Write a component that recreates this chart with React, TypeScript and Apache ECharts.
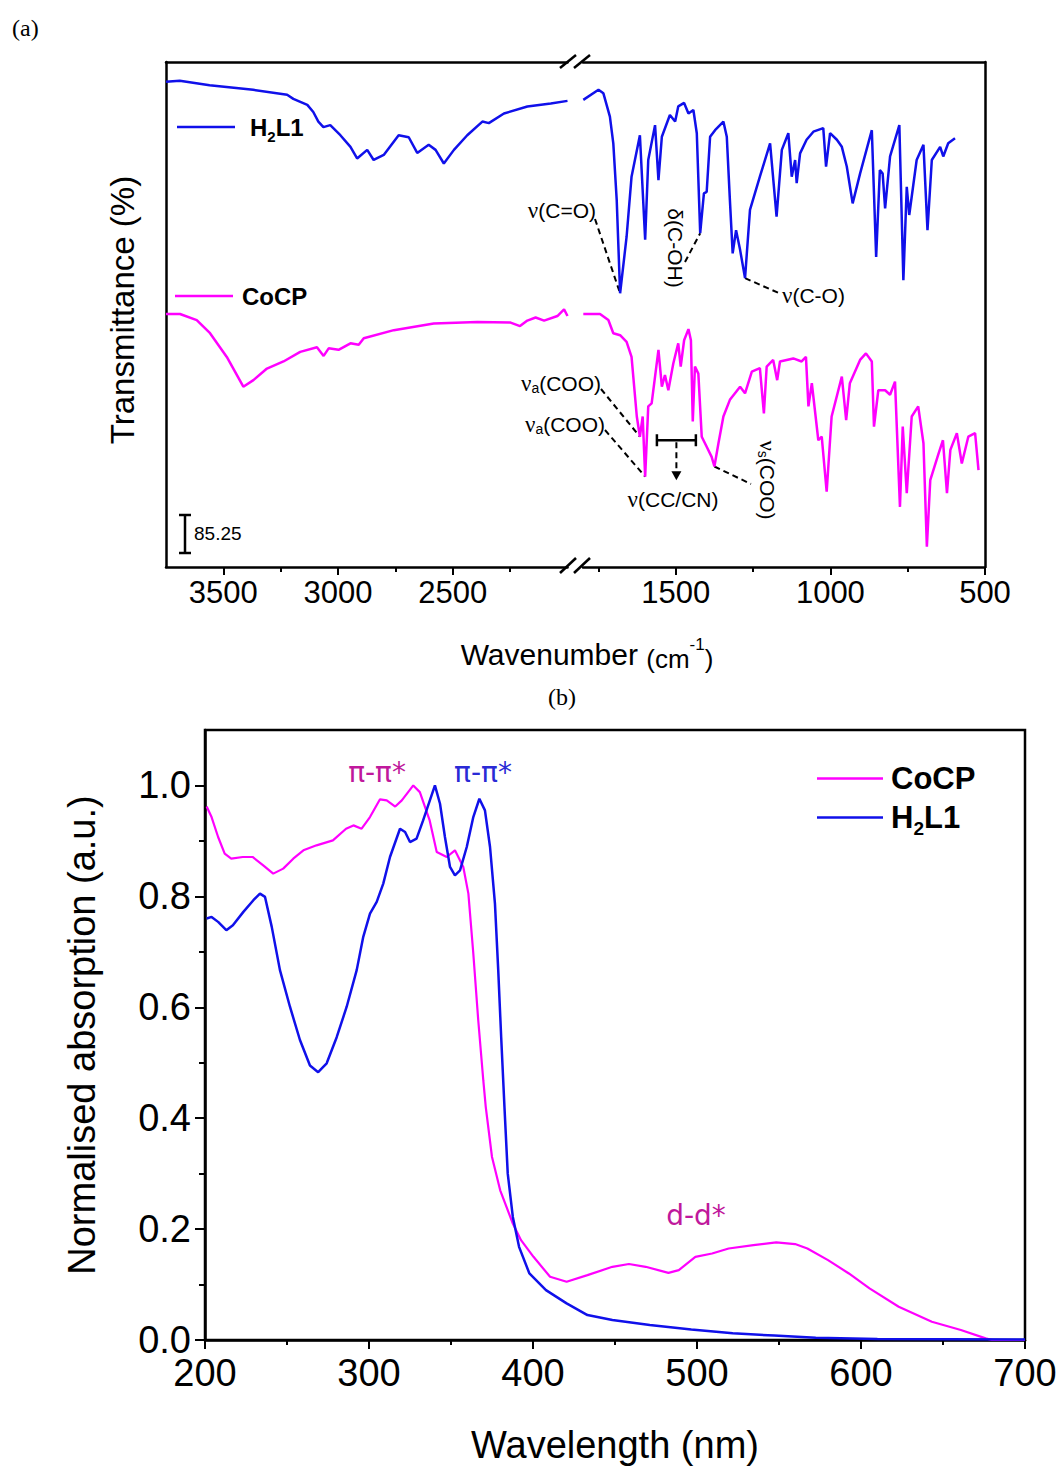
import React, { useEffect, useRef } from 'react';
import * as echarts from 'echarts';

const SANS = '"Liberation Sans", Arial, Helvetica, sans-serif';
const SERIF = '"Liberation Serif", "Times New Roman", serif';
const DEJAVU = '"DejaVu Sans", Verdana, sans-serif';
const BLUE = '#1010ea';
const MAGENTA = '#ff00ff';
const TXT_MAG = '#c0189c';
const TXT_BLUE = '#2a2ad6';

// ---------- (a) FTIR ----------
const irHighRange = [2000, 3750];
const irLowRange = [500, 1800];
const irMajorHigh = [2500, 3000, 3500];
const irMinorHigh = [2250, 2750, 3250];
const irMajorLow = [500, 1000, 1500];
const irMinorLow = [750, 1250, 1750];

const irH2L1High: number[][] = [
  [3750, 96.1], [3690, 96.3], [3560, 95.4], [3370, 94.5], [3222, 93.5], [3195, 92.7], [3134, 91.5],
  [3108, 90.1], [3086, 88.2], [3064, 87.1], [3034, 87.5], [2990, 85.5], [2946, 83.2], [2917, 80.9],
  [2873, 82.6], [2845, 80.6], [2801, 81.6], [2736, 85.5], [2692, 85.1], [2655, 82.0], [2605, 83.6],
  [2575, 82.6], [2539, 79.9], [2495, 82.6], [2437, 85.5], [2371, 88.2], [2343, 87.9], [2277, 89.8],
  [2175, 91.2], [2073, 91.8], [2000, 92.3],
];
const irH2L1Low: number[][] = [
  [1799, 92.5], [1750, 94.5], [1734, 93.8], [1713, 89.2], [1702, 83.9], [1691, 72.7], [1680, 54.2],
  [1659, 65.4], [1643, 77.3], [1616, 85.5], [1599, 64.8], [1589, 80.6], [1567, 87.5], [1556, 76.6],
  [1545, 85.2], [1519, 89.5], [1502, 88.2], [1492, 91.2], [1473, 91.9], [1459, 89.8], [1443, 90.5],
  [1432, 85.9], [1421, 66.1], [1409, 74.0], [1400, 74.3], [1389, 85.2], [1373, 86.5], [1346, 88.2],
  [1335, 85.2], [1325, 72.7], [1316, 62.1], [1305, 66.7], [1292, 62.8], [1276, 57.2], [1260, 70.7],
  [1228, 77.3], [1195, 83.9], [1174, 69.4], [1157, 82.6], [1136, 85.9], [1125, 77.3], [1114, 80.6],
  [1109, 76.0], [1098, 81.9], [1077, 84.6], [1055, 86.2], [1023, 86.9], [1014, 79.3], [1001, 85.9],
  [979, 84.6], [963, 83.2], [947, 79.3], [928, 72.0], [904, 77.9], [866, 86.5], [852, 61.4],
  [840, 78.6], [831, 77.9], [823, 71.0], [807, 81.3], [777, 87.5], [764, 56.8], [753, 75.3],
  [745, 69.7], [721, 80.6], [699, 83.6], [686, 66.7], [672, 80.6], [645, 83.2], [635, 81.3],
  [619, 83.9], [597, 84.9],
];
const irCoCPHigh: number[][] = [
  [3750, 50.1], [3689, 50.1], [3616, 48.9], [3558, 46.3], [3485, 41.6], [3413, 35.7], [3369, 37.0],
  [3310, 39.3], [3238, 40.7], [3165, 42.6], [3092, 43.5], [3063, 41.8], [3041, 43.3], [2998, 43.0],
  [2946, 44.3], [2910, 44.0], [2888, 45.3], [2757, 46.9], [2583, 48.2], [2393, 48.5], [2248, 48.4],
  [2207, 47.7], [2175, 48.8], [2139, 49.4], [2102, 48.8], [2044, 49.7], [2015, 51.0], [2000, 49.7],
];
const irCoCPLow: number[][] = [
  [1799, 50.1], [1745, 50.1], [1718, 48.9], [1702, 46.3], [1680, 45.9], [1659, 44.6], [1643, 41.6],
  [1626, 29.8], [1616, 25.8], [1607, 29.8], [1599, 17.9], [1589, 31.8], [1578, 32.4], [1567, 37.7],
  [1556, 43.0], [1545, 35.7], [1535, 38.0], [1524, 35.0], [1508, 40.3], [1492, 44.3], [1484, 39.7],
  [1473, 44.9], [1459, 47.1], [1451, 44.9], [1445, 28.8], [1438, 39.7], [1427, 38.3], [1416, 25.8],
  [1400, 23.8], [1384, 21.8], [1375, 19.9], [1362, 24.5], [1346, 29.8], [1325, 33.1], [1292, 35.7],
  [1276, 34.4], [1254, 38.7], [1228, 39.4], [1215, 30.4], [1206, 39.7], [1185, 41.0], [1172, 37.0],
  [1163, 40.7], [1120, 41.3], [1093, 40.7], [1079, 41.6], [1071, 31.8], [1060, 36.4], [1039, 25.1],
  [1028, 25.8], [1012, 14.9], [996, 29.8], [963, 37.7], [949, 29.1], [937, 36.4], [904, 41.0],
  [885, 42.3], [866, 40.7], [859, 27.8], [845, 35.0], [823, 35.0], [807, 34.1], [791, 36.7],
  [775, 11.9], [766, 27.8], [753, 14.6], [737, 29.8], [716, 31.8], [699, 24.5], [688, 4.0],
  [677, 17.2], [650, 22.5], [636, 25.1], [623, 14.6], [612, 23.2], [591, 26.5], [575, 20.5],
  [554, 25.8], [532, 26.5], [521, 19.2],
];

// ---------- (b) UV-Vis ----------
const uvXRange = [200, 700];
const uvYRange = [0, 1.1];
const uvMajorY = [0, 0.2, 0.4, 0.6, 0.8, 1.0];
const uvMinorY = [0.1, 0.3, 0.5, 0.7, 0.9];

const uvCoCP: number[][] = [
  [201, 0.962], [204, 0.943], [208, 0.907], [212, 0.877], [216, 0.868], [223, 0.871], [229, 0.871],
  [235.5, 0.856], [241.6, 0.841], [247.7, 0.85], [253.8, 0.868], [260, 0.883], [268, 0.892],
  [278, 0.901], [286, 0.922], [290.5, 0.928], [295.5, 0.922], [300.6, 0.943], [306.7, 0.975],
  [310.8, 0.973], [316, 0.962], [320, 0.973], [327, 1.0], [331, 0.988], [337, 0.937], [341.3, 0.88],
  [347.4, 0.871], [352.4, 0.883], [357.5, 0.853], [360.6, 0.805], [363.6, 0.697], [366.6, 0.577],
  [369.7, 0.468], [371.2, 0.42], [375, 0.33], [380, 0.27], [387.7, 0.21], [392.7, 0.18],
  [400.3, 0.15], [410.4, 0.114], [420.5, 0.105], [433.2, 0.117], [448.4, 0.132], [458.5, 0.137],
  [468.7, 0.132], [482.6, 0.121], [488.9, 0.126], [499, 0.15], [509.2, 0.156], [519.3, 0.165],
  [534.4, 0.171], [548.3, 0.176], [559.8, 0.173], [567.3, 0.165], [579.9, 0.144], [592.6, 0.12],
  [605.2, 0.093], [623, 0.06], [643.2, 0.033], [660.9, 0.018], [676, 0.003], [680, 0], [700, 0],
];
const uvH2L1: number[][] = [
  [201, 0.76], [204, 0.763], [208, 0.754], [213, 0.739], [217, 0.748], [223.4, 0.772], [229.5, 0.793],
  [233.5, 0.805], [236.6, 0.799], [240.7, 0.745], [245.7, 0.667], [251.8, 0.601], [257.9, 0.541],
  [264, 0.495], [269, 0.483], [274.2, 0.499], [280.3, 0.546], [286.4, 0.601], [292.5, 0.667],
  [296.5, 0.727], [300.6, 0.769], [304.7, 0.79], [308.7, 0.823], [312.8, 0.871], [318.9, 0.922],
  [322, 0.916], [325, 0.898], [329, 0.904], [333, 0.937], [340.2, 1.0], [343.3, 0.967],
  [346.3, 0.907], [349.4, 0.853], [352.4, 0.838], [355.5, 0.847], [359.6, 0.889], [363.6, 0.943],
  [367.3, 0.976], [370.7, 0.955], [373.8, 0.889], [376.8, 0.787], [378.8, 0.667], [380.6, 0.546],
  [382.6, 0.42], [384.6, 0.3], [387.7, 0.222], [391.5, 0.168], [397.8, 0.12], [407.9, 0.09],
  [420.5, 0.066], [433.2, 0.045], [448.4, 0.036], [471.2, 0.027], [496.5, 0.019], [521.8, 0.012],
  [547.1, 0.008], [572.4, 0.004], [610, 0.002], [700, 0.001],
];

const axisLineStyle = { color: '#000', width: 2.5 };

function irXAxes(gi: number, range: number[], major: number[], minor: number[]) {
  const base = { gridIndex: gi, type: 'value', min: range[0], max: range[1], inverse: true, splitLine: { show: false } };
  return [
    {
      ...base, position: 'bottom',
      axisLine: { show: true, onZero: false, lineStyle: axisLineStyle },
      axisTick: { show: true, customValues: major, length: 8, lineStyle: { color: '#000', width: 2 } },
      axisLabel: { show: true, customValues: major, formatter: (v: number) => String(v), fontSize: 31, fontFamily: SANS, color: '#000', margin: 10 },
    },
    {
      ...base, position: 'bottom',
      axisLine: { show: false, onZero: false },
      axisTick: { show: true, customValues: minor, length: 5, lineStyle: { color: '#000', width: 2 } },
      axisLabel: { show: false },
    },
    {
      ...base, position: 'top',
      axisLine: { show: true, onZero: false, lineStyle: axisLineStyle },
      axisTick: { show: false }, axisLabel: { show: false },
    },
  ];
}

const legendRich = (size: number, sub: number, lh: number, subLh: number, gap: number) => ({
  g: { width: gap, fontSize: 4 },
  b: { fontFamily: SANS, fontWeight: 'bold', fontSize: size, lineHeight: lh, color: '#000' },
  s: { fontFamily: SANS, fontWeight: 'bold', fontSize: sub, lineHeight: subLh, verticalAlign: 'bottom', color: '#000' },
});
const legendFmt = (name: string) => (name === 'H2L1' ? '{g| }{b|H}{s|2}{b|L1}' : '{g| }{b|CoCP}');

function buildOption() {
  const lineSeries = (name: string, data: number[][], xi: number, yi: number, color: string, w = 2.5) => ({
    type: 'line', name, data, xAxisIndex: xi, yAxisIndex: yi, showSymbol: false, symbol: 'none',
    lineStyle: { color, width: w }, itemStyle: { color }, silent: true,
  });
  return {
    animation: false,
    backgroundColor: '#fff',
    grid: [
      { left: 166, top: 62, width: 401.5, height: 505, containLabel: false, outerBoundsMode: 'none' },
      { left: 583, top: 62, width: 402, height: 505, containLabel: false, outerBoundsMode: 'none' },
      { left: 205, top: 730, width: 820, height: 610, containLabel: false, outerBoundsMode: 'none',
        show: true, borderColor: '#000', borderWidth: 2.5, backgroundColor: 'transparent' },
    ],
    xAxis: [
      ...irXAxes(0, irHighRange, irMajorHigh, irMinorHigh),
      ...irXAxes(1, irLowRange, irMajorLow, irMinorLow),
      {
        gridIndex: 2, type: 'value', min: uvXRange[0], max: uvXRange[1], interval: 100, position: 'bottom',
        splitLine: { show: false },
        axisLine: { show: true, onZero: false, lineStyle: axisLineStyle },
        axisTick: { show: true, length: 9, lineStyle: { color: '#000', width: 2 } },
        minorTick: { show: true, splitNumber: 2, length: 5, lineStyle: { color: '#000', width: 2 } },
        axisLabel: { formatter: (v: number) => String(v), fontSize: 38, fontFamily: SANS, color: '#000', margin: 14 },
      },
    ],
    yAxis: [
      { gridIndex: 0, type: 'value', min: 0, max: 100, position: 'left', splitLine: { show: false },
        axisLine: { show: true, onZero: false, lineStyle: axisLineStyle }, axisTick: { show: false }, axisLabel: { show: false } },
      { gridIndex: 1, type: 'value', min: 0, max: 100, position: 'right', splitLine: { show: false },
        axisLine: { show: true, onZero: false, lineStyle: axisLineStyle }, axisTick: { show: false }, axisLabel: { show: false } },
      { gridIndex: 2, type: 'value', min: uvYRange[0], max: uvYRange[1], position: 'left', splitLine: { show: false },
        axisLine: { show: true, onZero: false, lineStyle: axisLineStyle },
        axisTick: { show: true, customValues: uvMajorY, length: 10, lineStyle: { color: '#000', width: 2 } },
        axisLabel: { customValues: uvMajorY, formatter: (v: number) => v.toFixed(1), fontSize: 38, fontFamily: SANS, color: '#000', margin: 14 } },
      { gridIndex: 2, type: 'value', min: uvYRange[0], max: uvYRange[1], position: 'left', splitLine: { show: false },
        axisLine: { show: false, onZero: false },
        axisTick: { show: true, customValues: uvMinorY, length: 6, lineStyle: { color: '#000', width: 2 } },
        axisLabel: { show: false } },
    ],
    legend: [
      { data: ['H2L1'], left: 172, top: 110, icon: 'rect', itemWidth: 58, itemHeight: 2.5, selectedMode: false,
        formatter: legendFmt, textStyle: { rich: legendRich(24, 15, 34, 16, 10) } },
      { data: ['CoCP'], left: 170, top: 279, icon: 'rect', itemWidth: 58, itemHeight: 2.5, selectedMode: false,
        formatter: legendFmt, textStyle: { rich: legendRich(24, 15, 34, 16, 4) } },
      { data: ['CoCP', 'H2L1'], orient: 'vertical', left: 812, top: 758, icon: 'rect', itemWidth: 66, itemHeight: 2.5,
        itemGap: 8, selectedMode: false, formatter: legendFmt, textStyle: { rich: legendRich(31, 19, 40, 20, 3) } },
    ],
    series: [
      lineSeries('H2L1', irH2L1High, 0, 0, BLUE),
      lineSeries('H2L1', irH2L1Low, 3, 1, BLUE),
      lineSeries('CoCP', irCoCPHigh, 0, 0, MAGENTA),
      lineSeries('CoCP', irCoCPLow, 3, 1, MAGENTA),
      lineSeries('CoCP', uvCoCP, 6, 2, MAGENTA, 2.2),
      lineSeries('H2L1', uvH2L1, 6, 2, BLUE, 2.5),
    ],
  };
}

function buildGraphic(chart: any) {
  const ir = (wn: number, t: number) => chart.convertToPixel({ seriesIndex: 1 }, [wn, t]) as number[];
  const uv = (wl: number, a: number) => chart.convertToPixel({ seriesIndex: 5 }, [wl, a]) as number[];
  const dash = { stroke: '#000', lineWidth: 2, lineDash: [6, 4] };
  const solid = { stroke: '#000', lineWidth: 2.5 };
  const line = (a: number[], b: number[], style: any) => ({
    type: 'line', silent: true, shape: { x1: a[0], y1: a[1], x2: b[0], y2: b[1] }, style,
  });
  const text = (x: number, y: number, t: string, style: any, rotation = 0) => ({
    type: 'text', silent: true, x, y, rotation,
    style: { text: t, fill: '#000', align: 'center', verticalAlign: 'middle', fontFamily: SANS, ...style },
  });
  const annRich = {
    n: { fontFamily: SERIF, fontSize: 23, fill: '#000' },
    t: { fontFamily: SANS, fontSize: 21, fill: '#000' },
    sub: { fontFamily: SANS, fontSize: 14, fill: '#000', verticalAlign: 'bottom', lineHeight: 14 },
  };
  const bar = [ir(1561, 25.1), ir(1435, 25.1)];
  const midX = (bar[0][0] + bar[1][0]) / 2;
  const barY = bar[0][1];
  const els: any[] = [
    // panel labels
    text(12, 28, '(a)', { fontFamily: SERIF, fontSize: 24, align: 'left' }),
    text(548, 697, '(b)', { fontFamily: SERIF, fontSize: 24, align: 'left' }),
    // axis titles (a)
    text(122, 310, 'Transmittance (%)', { fontSize: 33 }, Math.PI / 2),
    {
      type: 'text', silent: true, x: 587, y: 654,
      style: {
        text: '{w|Wavenumber }{p|(cm}{sup|-1}{p|)}', align: 'center', verticalAlign: 'middle',
        rich: {
          w: { fontFamily: SANS, fontSize: 30, fill: '#000', lineHeight: 36 },
          p: { fontFamily: SANS, fontSize: 26, fill: '#000', lineHeight: 36, verticalAlign: 'bottom' },
          sup: { fontFamily: SANS, fontSize: 17, fill: '#000', lineHeight: 20, verticalAlign: 'top' },
        },
      },
    },
    // axis break marks
    line([560, 573], [576, 558], solid), line([574, 573], [590, 558], solid),
    line([560, 68], [576, 55], solid), line([574, 68], [590, 55], solid),
    // scale bar
    line([185, 515], [185, 553], solid), line([179, 515], [191, 515], solid), line([179, 553], [191, 553], solid),
    text(194, 533, '85.25', { fontSize: 19, align: 'left' }),
    // band assignments
    text(596, 210, '{n|ν}{t|(C=O)}', { align: 'right', rich: annRich }),
    line([595, 219], ir(1680, 54.2), dash),
    text(675, 248, '{t|δ(C-OH)}', { rich: annRich }, -Math.PI / 2),
    line([685, 262], ir(1421, 66.1), dash),
    text(782, 295, '{n|ν}{t|(C-O)}', { align: 'left', rich: annRich }),
    line(ir(1276, 57.2), [781, 294], dash),
    text(601, 383, '{n|ν}{sub|a}{t|(COO)}', { align: 'right', rich: annRich }),
    line([601, 389], ir(1616, 25.8), dash),
    text(605, 424, '{n|ν}{sub|a}{t|(COO)}', { align: 'right', rich: annRich }),
    line([605, 430], ir(1599, 17.9), dash),
    line(bar[0], bar[1], solid),
    line([bar[0][0], barY - 6], [bar[0][0], barY + 6], solid),
    line([bar[1][0], barY - 6], [bar[1][0], barY + 6], solid),
    line([midX, barY + 2], [midX, barY + 32], dash),
    { type: 'polygon', silent: true, shape: { points: [[midX - 5, barY + 31], [midX + 5, barY + 31], [midX, barY + 40]] }, style: { fill: '#000' } },
    text(673, 499, '{n|ν}{t|(CC/CN)}', { rich: annRich }),
    text(767, 480, '{n|ν}{sub|s}{t|(COO)}', { rich: annRich }, -Math.PI / 2),
    line(ir(1375, 19.9), [751, 484], dash),
    // axis titles (b)
    text(82, 1035, 'Normalised absorption (a.u.)', { fontSize: 38 }, Math.PI / 2),
    text(615, 1445, 'Wavelength (nm)', { fontSize: 38 }),
  ];
  const p1 = uv(304.9, 1.023);
  const p2 = uv(369.5, 1.023);
  const p3 = uv(499.4, 0.225);
  els.push(text(p1[0], p1[1], 'π-π*', { fontFamily: DEJAVU, fontSize: 28, fill: TXT_MAG }));
  els.push(text(p2[0], p2[1], 'π-π*', { fontFamily: DEJAVU, fontSize: 28, fill: TXT_BLUE }));
  els.push(text(p3[0], p3[1], 'd-d*', { fontFamily: DEJAVU, fontSize: 28, fill: TXT_MAG }));
  return els;
}

export default function App() {
  const ref = useRef<HTMLDivElement>(null);
  useEffect(() => {
    const chart = echarts.init(ref.current as HTMLDivElement, null, { renderer: 'svg' });
    chart.setOption(buildOption() as any);
    chart.setOption({ graphic: buildGraphic(chart) } as any);
    return () => chart.dispose();
  }, []);
  return (
    <div
      ref={ref}
      style={{ position: 'absolute', left: 0, top: 0, width: 1060, height: 1468, background: '#fff' }}
    />
  );
}
